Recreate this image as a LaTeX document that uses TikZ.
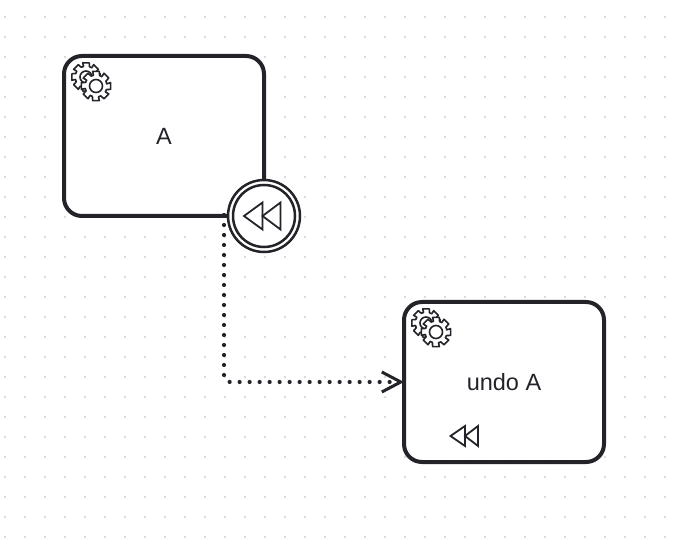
\documentclass[tikz,border=0pt]{standalone}
\usepackage{fontspec}
\setmainfont{Liberation Sans}
\usetikzlibrary{arrows.meta,calc}
\definecolor{ink}{HTML}{22242A}
\definecolor{griddot}{HTML}{DADADA}
\tikzset{
  x=1pt,y=-1pt,
  task/.style={draw=ink,line width=4pt,rounded corners=18pt,fill=white,fill opacity=.95,text opacity=1,
    minimum width=200pt,minimum height=160pt,outer sep=0pt,inner sep=0pt,text=ink,font=\fontsize{23.5}{27}\selectfont},
  evouter/.style={circle,draw=ink,line width=2.5pt,fill=white,minimum size=72pt,inner sep=0pt,outer sep=0pt},
  evinner/.style={circle,draw=ink,line width=2.5pt,fill=white,minimum size=62pt,inner sep=0pt,outer sep=0pt},
  flow/.style={draw=ink,line width=4.2pt,line cap=round,dash pattern=on 0pt off 10pt,rounded corners=6pt,
    -{Straight Barb[length=19pt,width=20pt,line width=3pt,line cap=butt]}},
  glyph/.style={draw=ink,line width=1.8pt,line join=miter,fill=none},
  gearline/.style={draw=ink,line width=1.6pt,fill=white,line join=round},
}
% #1 centre, #2 outer radius, #3 root radius, #4 hole radius
\newcommand{\gearshape}[4]{%
  \filldraw[gearline] ($(#1)+(-11.25:#3)$)
    \foreach \k in {0,45,...,315}{
      -- ($(#1)+(\k-13:#2)$) -- ($(#1)+(\k+13:#2)$)
      -- ($(#1)+(\k+19:#3)$) -- ($(#1)+(\k+26:#3)$) -- ($(#1)+(\k+32:#3)$)
    } -- cycle;
  \draw[gearline] (#1) circle[radius=#4];
}
\begin{document}
\begin{tikzpicture}
\useasboundingbox (0,0) rectangle (686,548);
\fill[white] (0,0) rectangle (686,548);
\foreach \i in {0,...,33}{\foreach \j in {0,...,26}{
  \fill[griddot] ({5+20*\i-1},{17+20*\j-1}) rectangle ({5+20*\i+1},{17+20*\j+1});
}}
\node[task] (a) at (164,136) {A};
\node[task] (u) at (504,382) {\raisebox{1pt}{undo A}};
\path (a.south west) ++(160,-1) coordinate (start);
\draw[flow] (start) |- (u.west);
\node[evouter] (ev) at (a.south east) {};
\node[evinner] (evi) at (ev.center) {};
% rewind marker on boundary event
\draw[glyph] (244,216) -- (262.5,202.5) -- (262.5,229.5) -- cycle;
\draw[glyph] (262.5,216) -- (280.5,202.5) -- (280.5,229.5) -- cycle;
% rewind marker in task
\draw[glyph] (450.5,436) -- (465,426) -- (465,446) -- cycle;
\draw[glyph] (465,436) -- (478,426) -- (478,446) -- cycle;
% gears
\coordinate (g1) at (86,77);
\coordinate (g2) at (96,86);
\coordinate (g3) at (426,323);
\coordinate (g4) at (436,332);
\gearshape{g1}{14.5}{10.8}{6}
\gearshape{g2}{15}{11}{6.5}
\gearshape{g3}{14.5}{10.8}{6}
\gearshape{g4}{15}{11}{6.5}
\end{tikzpicture}
\end{document}
